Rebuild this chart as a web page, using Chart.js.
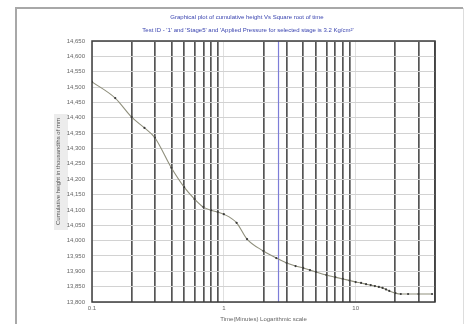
<!DOCTYPE html>
<html>
<head>
<meta charset="utf-8">
<script src="https://cdn.jsdelivr.net/npm/chart.js@4/dist/chart.umd.min.js"></script>
<style>
html,body{margin:0;padding:0;background:#fff;overflow:hidden;}
#wrap{position:relative;width:466px;height:324px;}
</style>
</head>
<body>
<div id="wrap"><canvas id="c" width="466" height="324"></canvas></div>
<script>
// ---- data ----
const titleLines = [
  "Graphical plot of cumulative height Vs Square root of time",
  "Test ID - '1' and 'Stage5' and 'Applied Pressure for selected stage is 3.2 Kg/cm\u00B2'"
];
const xAxisTitle = "Time(Minutes) Logarithmic scale";
const yAxisTitle = "Cumulative height in thousandths of mm";

const timeMin = [0.1,0.15,0.2,0.25,0.3,0.4,0.5,0.6,0.7,0.8,0.9,1,1.25,1.5,2,2.5,3,3.5,4,4.5,5,6,7,8,9,10,11,12,13,14,15,16,17,18,20,22,25,30,38];
const heightVals = [14517,14464,14402,14367,14335,14237,14174,14135,14109,14099,14093,14086,14058,14005,13966,13943,13927,13917,13911,13904,13898,13888,13881,13875,13870,13865,13862,13858,13855,13852,13849,13846,13841,13836,13829,13826,13826,13826,13826];

const markerTime = [2.6, 2.6];
const markerHeight = [13800, 14650];

const xTickValues = [0.1,0.2,0.3,0.4,0.5,0.6,0.7,0.8,0.9,1,2,3,4,5,6,7,8,9,10,20,30,40];
const xTickLabels = {0.1:"0.1", 1:"1", 10:"10"};
const yMin = 13800, yMax = 14650, yStep = 50;

const FONT = "'Liberation Sans', Arial, sans-serif";

const decorPlugin = {
  id: 'decor',
  beforeDraw(chart){
    const ctx = chart.ctx;
    ctx.save();
    ctx.fillStyle = '#ffffff';
    ctx.fillRect(0,0,chart.width,chart.height);
    ctx.strokeStyle = '#a8a8a8';
    ctx.lineWidth = 2;
    ctx.beginPath();
    ctx.moveTo(16, 324); ctx.lineTo(16, 8); ctx.lineTo(463, 8);
    ctx.stroke();
    ctx.strokeStyle = '#dddddd';
    ctx.lineWidth = 1;
    ctx.beginPath();
    ctx.moveTo(463.5, 8); ctx.lineTo(463.5, 324);
    ctx.stroke();
    ctx.fillStyle = '#ececec';
    ctx.fillRect(54, 114, 14, 116);
    ctx.restore();
  },
  afterDraw(chart){
    const ctx = chart.ctx;
    const a = chart.chartArea;
    ctx.save();
    ctx.strokeStyle = '#3c3c3c';
    ctx.lineWidth = 1.5;
    ctx.strokeRect(a.left, a.top, a.right - a.left, a.bottom - a.top);
    ctx.fillStyle = '#3b45b0';
    ctx.font = '6px ' + FONT;
    ctx.textAlign = 'center';
    ctx.textBaseline = 'middle';
    ctx.fillText(titleLines[0], 247, 17);
    ctx.fillText(titleLines[1], 248, 30);
    ctx.restore();
  }
};

new Chart(document.getElementById('c'), {
  type: 'line',
  data: {
    datasets: [
      {
        data: timeMin.map((t,i)=>({x:t, y:heightVals[i]})),
        borderColor: '#8f8f7c',
        borderWidth: 1.1,
        pointRadius: 1.1,
        pointBackgroundColor: '#3a3a3a',
        pointBorderColor: '#3a3a3a',
        pointBorderWidth: 0,
        cubicInterpolationMode: 'monotone'
      },
      {
        data: markerTime.map((t,i)=>({x:t, y:markerHeight[i]})),
        borderColor: '#7d7dd8',
        borderWidth: 1.2,
        pointRadius: 0
      }
    ]
  },
  options: {
    responsive: false,
    animation: false,
    devicePixelRatio: 1,
    layout: { padding: { left: 16, top: 41, right: 31, bottom: 0 } },
    plugins: { legend: { display: false }, title: { display: false }, tooltip: { enabled: false } },
    scales: {
      x: {
        type: 'logarithmic',
        min: 0.1, max: 40,
        afterBuildTicks(scale){ scale.ticks = xTickValues.map(v=>({value:v})); },
        afterFit(scale){ scale.height = 22; },
        ticks: {
          autoSkip: false, maxRotation: 0, padding: 3,
          color: '#666', font: { size: 6, family: FONT },
          callback(v){ const k = Math.round(v*10)/10; return xTickLabels[k] !== undefined ? xTickLabels[k] : ''; }
        },
        grid: {
          drawTicks: false,
          color(ctx){ const v = ctx.tick ? ctx.tick.value : 0; const k = Math.round(v*10)/10; return (k===0.1||k===1||k===10) ? 'rgba(0,0,0,0.12)' : '#555555'; },
          lineWidth(ctx){ const v = ctx.tick ? ctx.tick.value : 0; const k = Math.round(v*10)/10; return (k===0.1||k===1||k===10) ? 1 : 1.7; }
        },
        border: { display: false },
        title: { display: true, text: xAxisTitle, color: '#666', font: { size: 6, family: FONT }, padding: { top: 2, bottom: 1 } }
      },
      y: {
        min: yMin, max: yMax,
        afterFit(scale){ scale.width = 76; },
        ticks: {
          stepSize: yStep, padding: 7, color: '#666',
          font: { size: 6, family: FONT },
          callback(v){ return Number(v).toLocaleString('en-US'); }
        },
        grid: { drawTicks: false, color: '#d2d2d2', lineWidth: 1 },
        border: { display: false },
        title: { display: true, text: yAxisTitle, color: '#555', font: { size: 6, family: FONT }, padding: { top: 39, bottom: 0 } }
      }
    }
  },
  plugins: [decorPlugin]
});
</script>
</body>
</html>
